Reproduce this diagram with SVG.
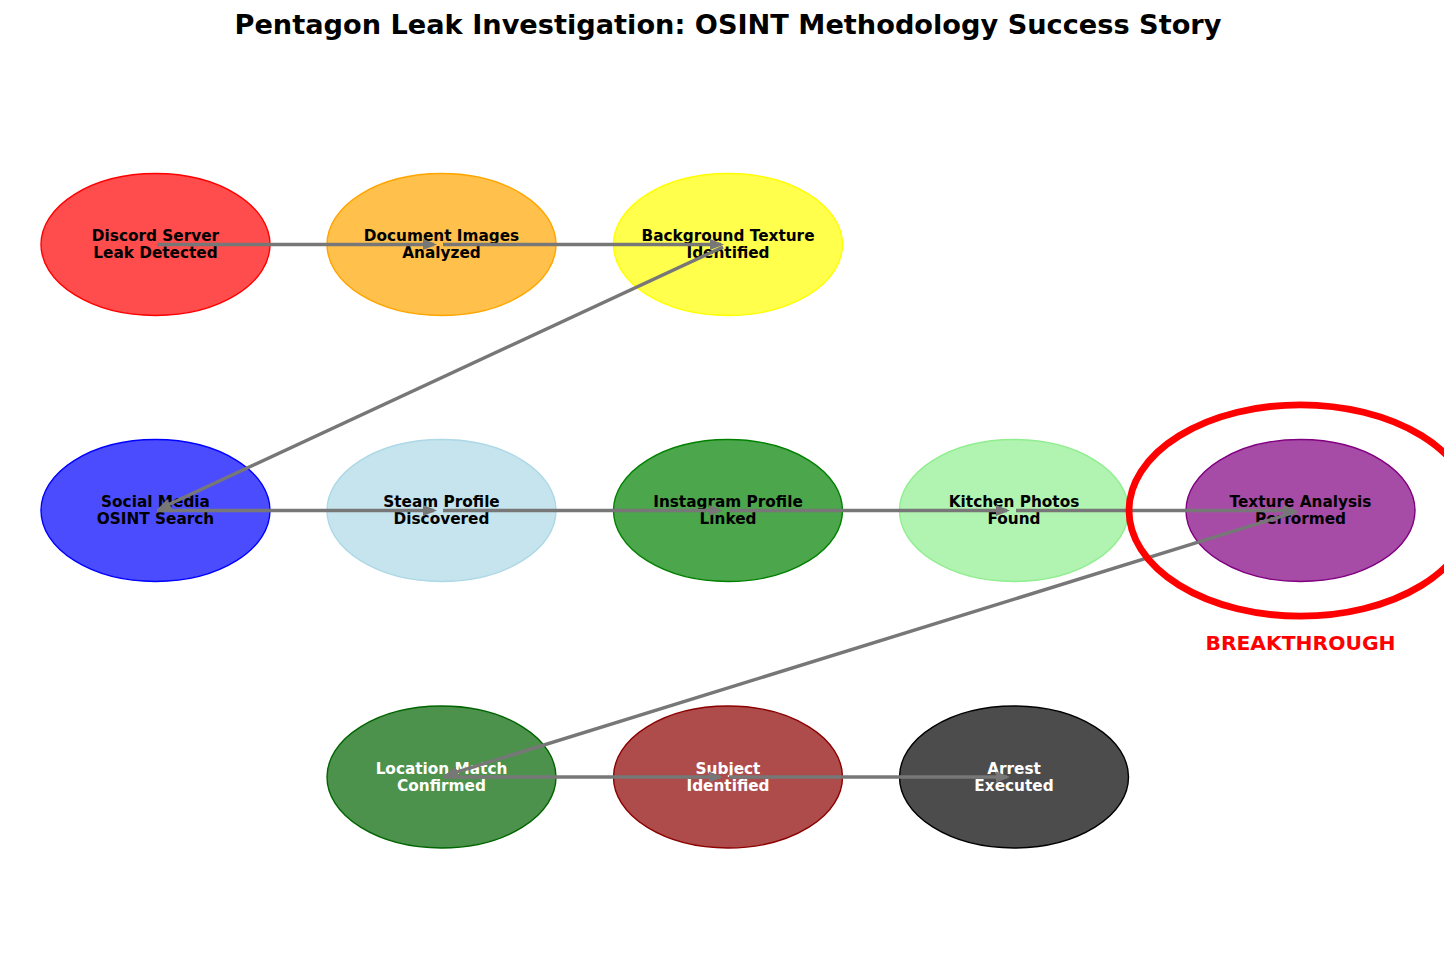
<svg xmlns="http://www.w3.org/2000/svg" width="1456" height="967" viewBox="0 0 1456 967">
<style>
text{font-family:"DejaVu Sans",sans-serif;font-weight:700;text-anchor:middle}
.l{font-size:15.3px;fill:#000}
.w{font-size:15.3px;fill:#fff}
.n{stroke-width:1.4}
.c{stroke:#777;stroke-width:3.4;fill:none;marker-end:url(#a)}
</style>
<defs>
<marker id="a" markerUnits="userSpaceOnUse" markerWidth="15" markerHeight="14" refX="11" refY="7" orient="auto"><path d="M0 1.5L14 7L0 12.5Z" fill="#777"/></marker>
<clipPath id="clip"><rect x="0" y="0" width="1444" height="967"/></clipPath>
</defs>
<rect width="1456" height="967" fill="#fff"/>
<text x="728" y="34" font-size="27.2" fill="#000">Pentagon Leak Investigation: OSINT Methodology Success Story</text>
<g id="n1"><ellipse class="n" cx="155.5" cy="244.5" rx="114.5" ry="71" fill="#ff0000" fill-opacity=".7" stroke="#ff0000"/><text class="l" x="155.5" y="241">Discord Server</text><text class="l" x="155.5" y="258">Leak Detected</text></g>
<g id="n2"><ellipse class="n" cx="441.5" cy="244.5" rx="114.5" ry="71" fill="#ffa500" fill-opacity=".7" stroke="#ffa500"/><text class="l" x="441.5" y="241">Document Images</text><text class="l" x="441.5" y="258">Analyzed</text></g>
<g id="n3"><ellipse class="n" cx="728" cy="244.5" rx="114.5" ry="71" fill="#ffff00" fill-opacity=".7" stroke="#ffff00"/><text class="l" x="728" y="241">Background Texture</text><text class="l" x="728" y="258">Identified</text></g>
<g id="n4"><ellipse class="n" cx="155.5" cy="510.5" rx="114.5" ry="71" fill="#0000ff" fill-opacity=".7" stroke="#0000ff"/><text class="l" x="155.5" y="507">Social Media</text><text class="l" x="155.5" y="524">OSINT Search</text></g>
<g id="n5"><ellipse class="n" cx="441.5" cy="510.5" rx="114.5" ry="71" fill="#add8e6" fill-opacity=".7" stroke="#add8e6"/><text class="l" x="441.5" y="507">Steam Profile</text><text class="l" x="441.5" y="524">Discovered</text></g>
<g id="n6"><ellipse class="n" cx="728" cy="510.5" rx="114.5" ry="71" fill="#008000" fill-opacity=".7" stroke="#008000"/><text class="l" x="728" y="507">Instagram Profile</text><text class="l" x="728" y="524">Linked</text></g>
<g id="n7"><ellipse class="n" cx="1014" cy="510.5" rx="114.5" ry="71" fill="#90ee90" fill-opacity=".7" stroke="#90ee90"/><text class="l" x="1014" y="507">Kitchen Photos</text><text class="l" x="1014" y="524">Found</text></g>
<g id="n8"><ellipse class="n" cx="1300.5" cy="510.5" rx="114.5" ry="71" fill="#800080" fill-opacity=".7" stroke="#800080"/><text class="l" x="1300.5" y="507">Texture Analysis</text><text class="l" x="1300.5" y="524">Performed</text></g>
<g id="n9"><ellipse class="n" cx="441.5" cy="777" rx="114.5" ry="71" fill="#006400" fill-opacity=".7" stroke="#006400"/><text class="w" x="441.5" y="773.5">Location Match</text><text class="w" x="441.5" y="790.5">Confirmed</text></g>
<g id="n10"><ellipse class="n" cx="728" cy="777" rx="114.5" ry="71" fill="#8b0000" fill-opacity=".7" stroke="#8b0000"/><text class="w" x="728" y="773.5">Subject</text><text class="w" x="728" y="790.5">Identified</text></g>
<g id="n11"><ellipse class="n" cx="1014" cy="777" rx="114.5" ry="71" fill="#000000" fill-opacity=".7" stroke="#000000"/><text class="w" x="1014" y="773.5">Arrest</text><text class="w" x="1014" y="790.5">Executed</text></g>
<g id="connectors">
<line class="c" x1="157" y1="244.5" x2="434" y2="244.5"/>
<line class="c" x1="443" y1="244.5" x2="721" y2="244.5"/>
<line class="c" x1="723" y1="247" x2="159.7" y2="508.7"/>
<line class="c" x1="157" y1="510.5" x2="434" y2="510.5"/>
<line class="c" x1="443" y1="510.5" x2="720" y2="510.5"/>
<line class="c" x1="730" y1="510.5" x2="1007" y2="510.5"/>
<line class="c" x1="1016" y1="510.5" x2="1294" y2="510.5"/>
<line class="c" x1="1297" y1="511.5" x2="446.9" y2="775.1"/>
<line class="c" x1="443" y1="777" x2="720" y2="777"/>
<line class="c" x1="729" y1="777" x2="1007" y2="777"/>
</g>
<g id="breakthrough"><ellipse cx="1300.5" cy="510.5" rx="171.5" ry="105.7" fill="none" stroke="#ff0000" stroke-width="6.8" clip-path="url(#clip)"/><text x="1300.5" y="650" font-size="20.3" fill="#ff0000">BREAKTHROUGH</text></g>
</svg>
